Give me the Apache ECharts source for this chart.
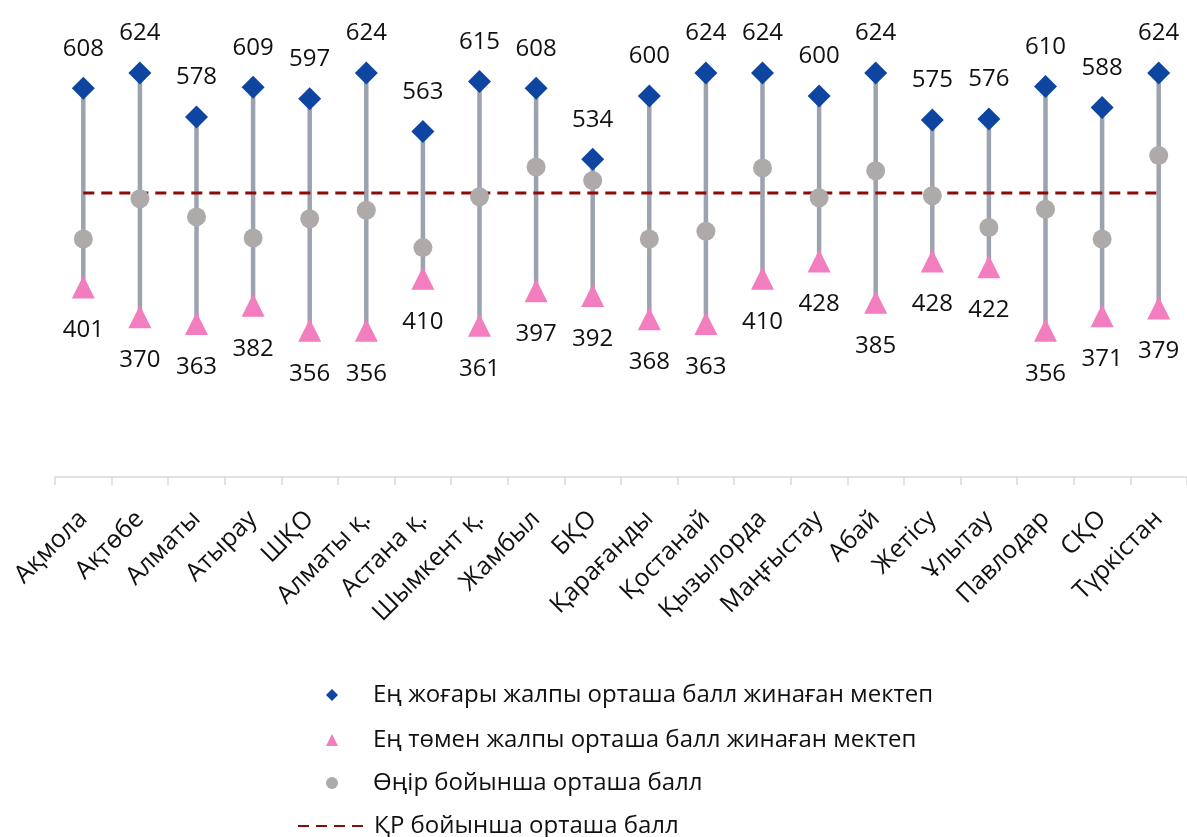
<!DOCTYPE html>
<html>
<head>
<meta charset="utf-8">
<title>ҰБТ орташа балл</title>
<script src="https://cdn.jsdelivr.net/npm/echarts@6/dist/echarts.min.js"></script>
<style>
  html, body { margin: 0; padding: 0; background: #fff; }
  #main { width: 1187px; height: 837px; }
</style>
</head>
<body>
<div id="main"></div>
<script type="text/javascript">
// өңірлер
var regions = ['Ақмола', 'Ақтөбе', 'Алматы', 'Атырау', 'ШҚО', 'Алматы қ.', 'Астана қ.', 'Шымкент қ.',
  'Жамбыл', 'БҚО', 'Қарағанды', 'Қостанай', 'Қызылорда', 'Маңғыстау', 'Абай', 'Жетісу',
  'Ұлытау', 'Павлодар', 'СҚО', 'Түркістан'];
var maxScore = [608, 624, 578, 609, 597, 624, 563, 615, 608, 534, 600, 624, 624, 600, 624, 575, 576, 610, 588, 624];
var minScore = [401, 370, 363, 382, 356, 356, 410, 361, 397, 392, 368, 363, 410, 428, 385, 428, 422, 356, 371, 379];
var regionAvg = [451, 493, 474, 452, 472, 481, 442, 495, 526, 512, 451, 459, 525, 494, 522, 496, 463, 482, 451, 538];
var kzAvg = 499;

var names = [
  'Ең жоғары жалпы орташа балл жинаған мектеп',
  'Ең төмен жалпы орташа балл жинаған мектеп',
  'Өңір бойынша орташа балл',
  'ҚР бойынша орташа балл'
];

var font = '"Open Sans", "Noto Sans", sans-serif';
var myChart = echarts.init(document.getElementById('main'));

// бір легенда — бір жол
function legendRow(item, top, left, w, pad) {
  return {
    orient: 'vertical',
    left: left, top: top,
    padding: 0,
    itemWidth: w, itemHeight: 12,
    textStyle: { fontSize: 24, color: '#111', fontFamily: font, lineHeight: 24, padding: [0, 0, 0, pad] },
    data: [item]
  };
}

myChart.setOption({
  animation: false,
  textStyle: { fontFamily: font },
  grid: { left: 55, top: 0, width: 1137, height: 477, containLabel: false },
  xAxis: {
    type: 'category',
    data: regions,
    axisLine: { lineStyle: { color: '#d9d9d9', width: 1.5 } },
    axisTick: { show: true, length: 8, lineStyle: { color: '#d9d9d9', width: 1.5 } },
    axisLabel: { rotate: 45, margin: 38, fontSize: 25, color: '#111', fontFamily: font, interval: 0 }
  },
  yAxis: {
    type: 'value', min: 203, max: 700, show: false,
    splitLine: { show: false }
  },
  legend: [
    legendRow({ name: names[0], icon: 'diamond' }, 683, 326, 12, 30),
    legendRow({ name: names[1], icon: 'triangle' }, 728, 326, 12, 30),
    legendRow({ name: names[2], icon: 'circle' }, 771, 326, 12, 30),
    legendRow({ name: names[3], itemStyle: { color: 'rgba(0,0,0,0)', opacity: 0 } }, 814, 297, 65, 6)
  ],
  series: [
    {
      type: 'custom',
      name: 'range',
      z: 1,
      data: regions.map(function (r, i) { return [i, minScore[i], maxScore[i]]; }),
      encode: { x: 0, y: [1, 2] },
      renderItem: function (params, api) {
        var lo = api.coord([api.value(0), api.value(1)]);
        var hi = api.coord([api.value(0), api.value(2)]);
        return {
          type: 'line',
          shape: { x1: lo[0], y1: lo[1], x2: hi[0], y2: hi[1] },
          style: { stroke: '#9ca2ae', lineWidth: 4.5 }
        };
      }
    },
    {
      name: names[3],
      type: 'line',
      z: 2,
      symbol: 'none',
      data: regions.map(function () { return kzAvg; }),
      lineStyle: { color: '#8b0a0a', width: 3, type: [11, 7] },
      itemStyle: { color: '#8b0a0a' }
    },
    {
      name: names[2],
      type: 'scatter',
      z: 3,
      symbol: 'circle',
      symbolSize: 19,
      data: regionAvg,
      itemStyle: { color: '#adaaa9', opacity: 1 }
    },
    {
      name: names[0],
      type: 'scatter',
      z: 4,
      symbol: 'diamond',
      symbolSize: 23,
      data: maxScore,
      itemStyle: { color: '#0e45a0', opacity: 1 },
      label: { show: true, position: 'top', distance: 16, fontSize: 24, color: '#111', fontFamily: font }
    },
    {
      name: names[1],
      type: 'scatter',
      z: 4,
      symbol: 'triangle',
      symbolSize: 23,
      data: minScore,
      itemStyle: { color: '#f27dbf', opacity: 1 },
      label: { show: true, position: 'bottom', distance: 20, fontSize: 24, color: '#111', fontFamily: font }
    }
  ]
});
</script>
</body>
</html>
